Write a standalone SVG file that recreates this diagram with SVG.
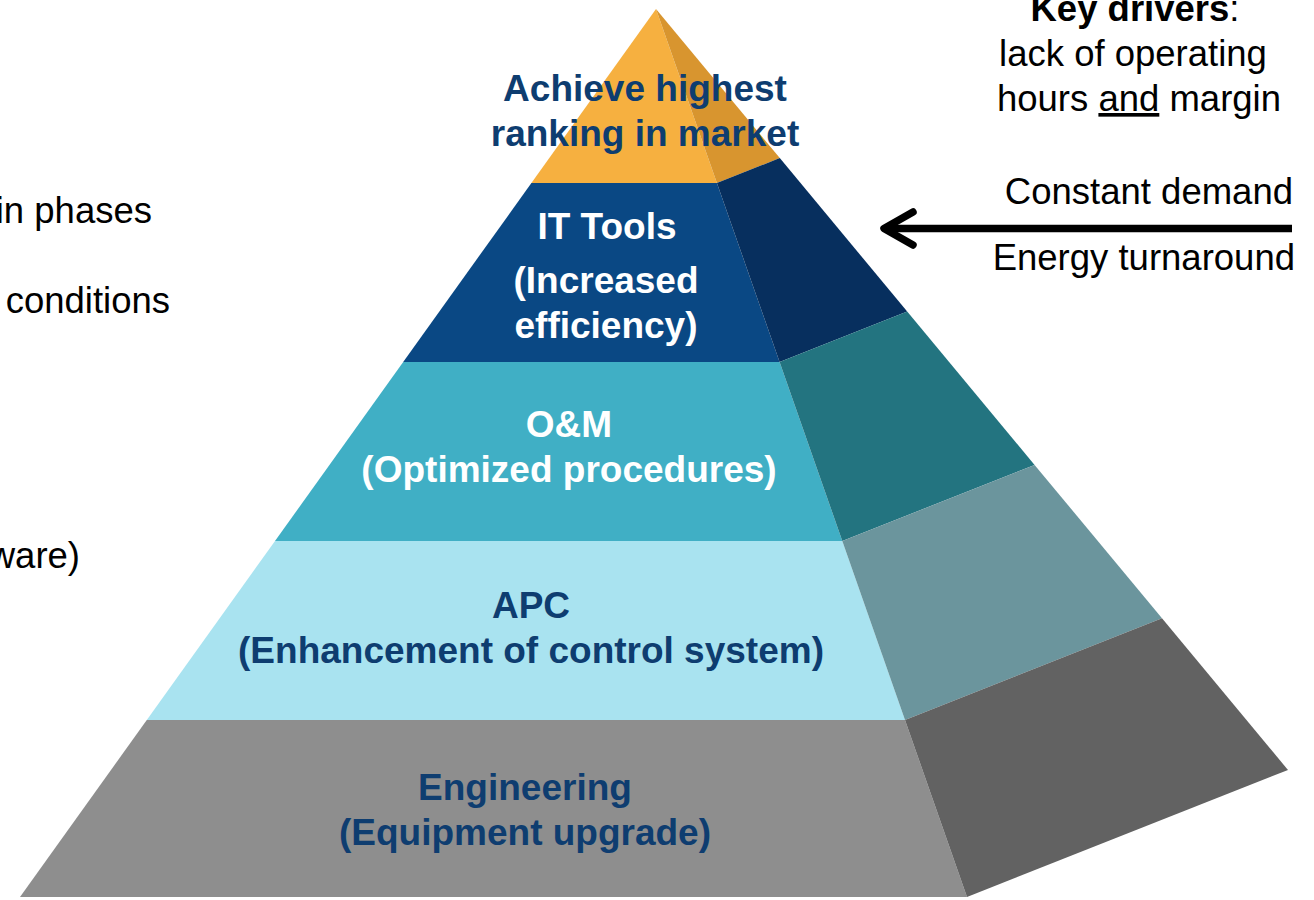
<svg xmlns="http://www.w3.org/2000/svg" width="1314" height="900" viewBox="0 0 1314 900">
  <style>
    .lbl { font-family: "Liberation Sans", Arial, sans-serif; font-size: 37px; font-weight: bold; text-anchor: middle; }
    .navy { fill: #0E3D70; }
    .white { fill: #FFFFFF; }
    .txt { font-family: "Liberation Sans", Arial, sans-serif; font-size: 36.5px; fill: #000000; }
  </style>
  <rect width="1314" height="900" fill="#FFFFFF"/>

  <!-- pyramid layers: front face + right side face -->
  <g id="layer-top">
    <polygon points="656,9 716.9,183 531.4,183" fill="#F6B040"/>
    <polygon points="656,9 779.8,158.1 716.9,183" fill="#D8952F"/>
    <text class="lbl navy" x="645" y="101">Achieve highest</text>
    <text class="lbl navy" x="645" y="146">ranking in market</text>
  </g>
  <g id="layer-it">
    <polygon points="531.4,183 716.9,183 779.6,362 403.2,362" fill="#0A4884"/>
    <polygon points="716.9,183 779.8,158.1 907.2,311.5 779.6,362" fill="#072F5E"/>
    <text class="lbl white" x="607" y="239">IT Tools</text>
    <text class="lbl white" x="606" y="293">(Increased</text>
    <text class="lbl white" x="606" y="338">efficiency)</text>
  </g>
  <g id="layer-om">
    <polygon points="403.2,362 779.6,362 842.3,541 275,541" fill="#40AFC5"/>
    <polygon points="779.6,362 907.2,311.5 1034.6,464.9 842.3,541" fill="#237480"/>
    <text class="lbl white" x="569" y="437">O&amp;M</text>
    <text class="lbl white" x="569" y="482">(Optimized procedures)</text>
  </g>
  <g id="layer-apc">
    <polygon points="275,541 842.3,541 905,720 146.8,720" fill="#A9E3F0"/>
    <polygon points="842.3,541 1034.6,464.9 1162,618.3 905,720" fill="#6B959D"/>
    <text class="lbl navy" x="531" y="618">APC</text>
    <text class="lbl navy" x="531" y="663">(Enhancement of control system)</text>
  </g>
  <g id="layer-eng">
    <polygon points="146.8,720 905,720 967,897 20,897" fill="#8E8E8E"/>
    <polygon points="905,720 1162,618.3 1288,770 967,897" fill="#626262"/>
    <text class="lbl navy" x="525" y="800">Engineering</text>
    <text class="lbl navy" x="525" y="845">(Equipment upgrade)</text>
  </g>

  <!-- key drivers -->
  <g id="drivers">
    <text class="txt" x="1135" y="21" text-anchor="middle"><tspan font-weight="bold">Key drivers</tspan>:</text>
    <text class="txt" x="1133" y="66" text-anchor="middle">lack of operating</text>
    <text class="txt" x="1139" y="111" text-anchor="middle">hours <tspan text-decoration="underline">and</tspan> margin</text>
    <text class="txt" x="1293" y="204" text-anchor="end">Constant demand</text>
    <text class="txt" x="1295" y="270" text-anchor="end">Energy turnaround</text>
  </g>

  <!-- side notes on the left -->
  <g id="notes">
    <text class="txt" x="152" y="223" text-anchor="end">in phases</text>
    <text class="txt" x="170" y="313" text-anchor="end">conditions</text>
    <text class="txt" x="80" y="568" text-anchor="end">ware)</text>
  </g>

  <!-- connectors -->
  <g id="connectors" fill="none" stroke="#000000" stroke-width="7.5" stroke-linecap="round" stroke-linejoin="round">
    <line x1="1292" y1="228.5" x2="886" y2="228.5" stroke-linecap="butt"/>
    <polyline points="913,212 884,228.5 913,245"/>
  </g>
</svg>
